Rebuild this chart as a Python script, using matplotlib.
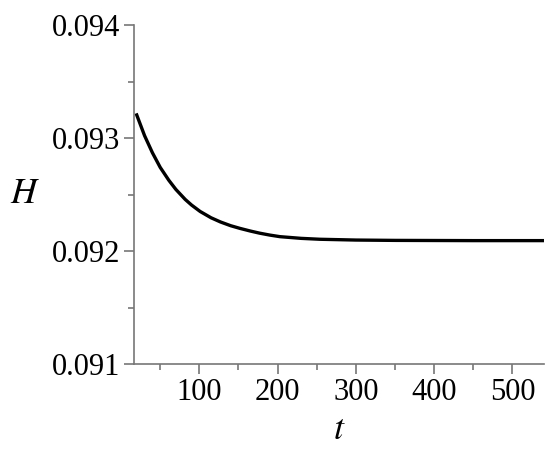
import numpy as np
import matplotlib
matplotlib.use("Agg")
import matplotlib.pyplot as plt
from matplotlib.ticker import MultipleLocator, FormatStrFormatter

# values
t = [20, 30, 40, 50, 61, 70, 82, 90, 101, 115, 127, 140, 152, 165, 177, 190, 203, 230, 254,
     300, 350, 400, 450, 500, 540]
H = [0.093204, 0.093021, 0.092870, 0.092740, 0.092626, 0.092545, 0.092456, 0.092407, 0.092350,
     0.092294, 0.092257, 0.092224, 0.092200, 0.092177, 0.092158, 0.092141, 0.092127, 0.092112,
     0.092104, 0.092097, 0.092094, 0.092093, 0.092092, 0.092092, 0.092092]

x_limits = (16.5, 540)
y_limits = (0.091, 0.094)

plt.rcParams['font.family'] = ['Liberation Serif', 'DejaVu Serif']
plt.rcParams['mathtext.fontset'] = 'stix'

fig = plt.figure(figsize=(5.56, 4.58), dpi=100)
ax = fig.add_axes([0.241, 0.2052, 0.737, 0.7402])

ax.plot(t, H, color='black', linewidth=2.4)

ax.set_xlim(*x_limits)
ax.set_ylim(*y_limits)

ax.spines['top'].set_visible(False)
ax.spines['right'].set_visible(False)
for side in ['left', 'bottom']:
    ax.spines[side].set_color('#777777')
    ax.spines[side].set_linewidth(1.2)

ax.xaxis.set_major_locator(MultipleLocator(100))
ax.xaxis.set_minor_locator(MultipleLocator(50))
ax.yaxis.set_major_locator(MultipleLocator(0.001))
ax.yaxis.set_minor_locator(MultipleLocator(0.0005))
ax.yaxis.set_major_formatter(FormatStrFormatter('%.3f'))

ax.tick_params(which='major', length=7, width=1.2, color='#777777', labelsize=22, pad=3)
ax.tick_params(which='minor', length=4, width=1.2, color='#777777')

ax.set_xlabel(r'$t$', fontsize=26, labelpad=5)
ax.set_ylabel(r'$H$', fontsize=26, rotation=0, ha='center', va='center')
ax.yaxis.set_label_coords(-0.266, 0.50)

fig.savefig('out.png', dpi=100)
